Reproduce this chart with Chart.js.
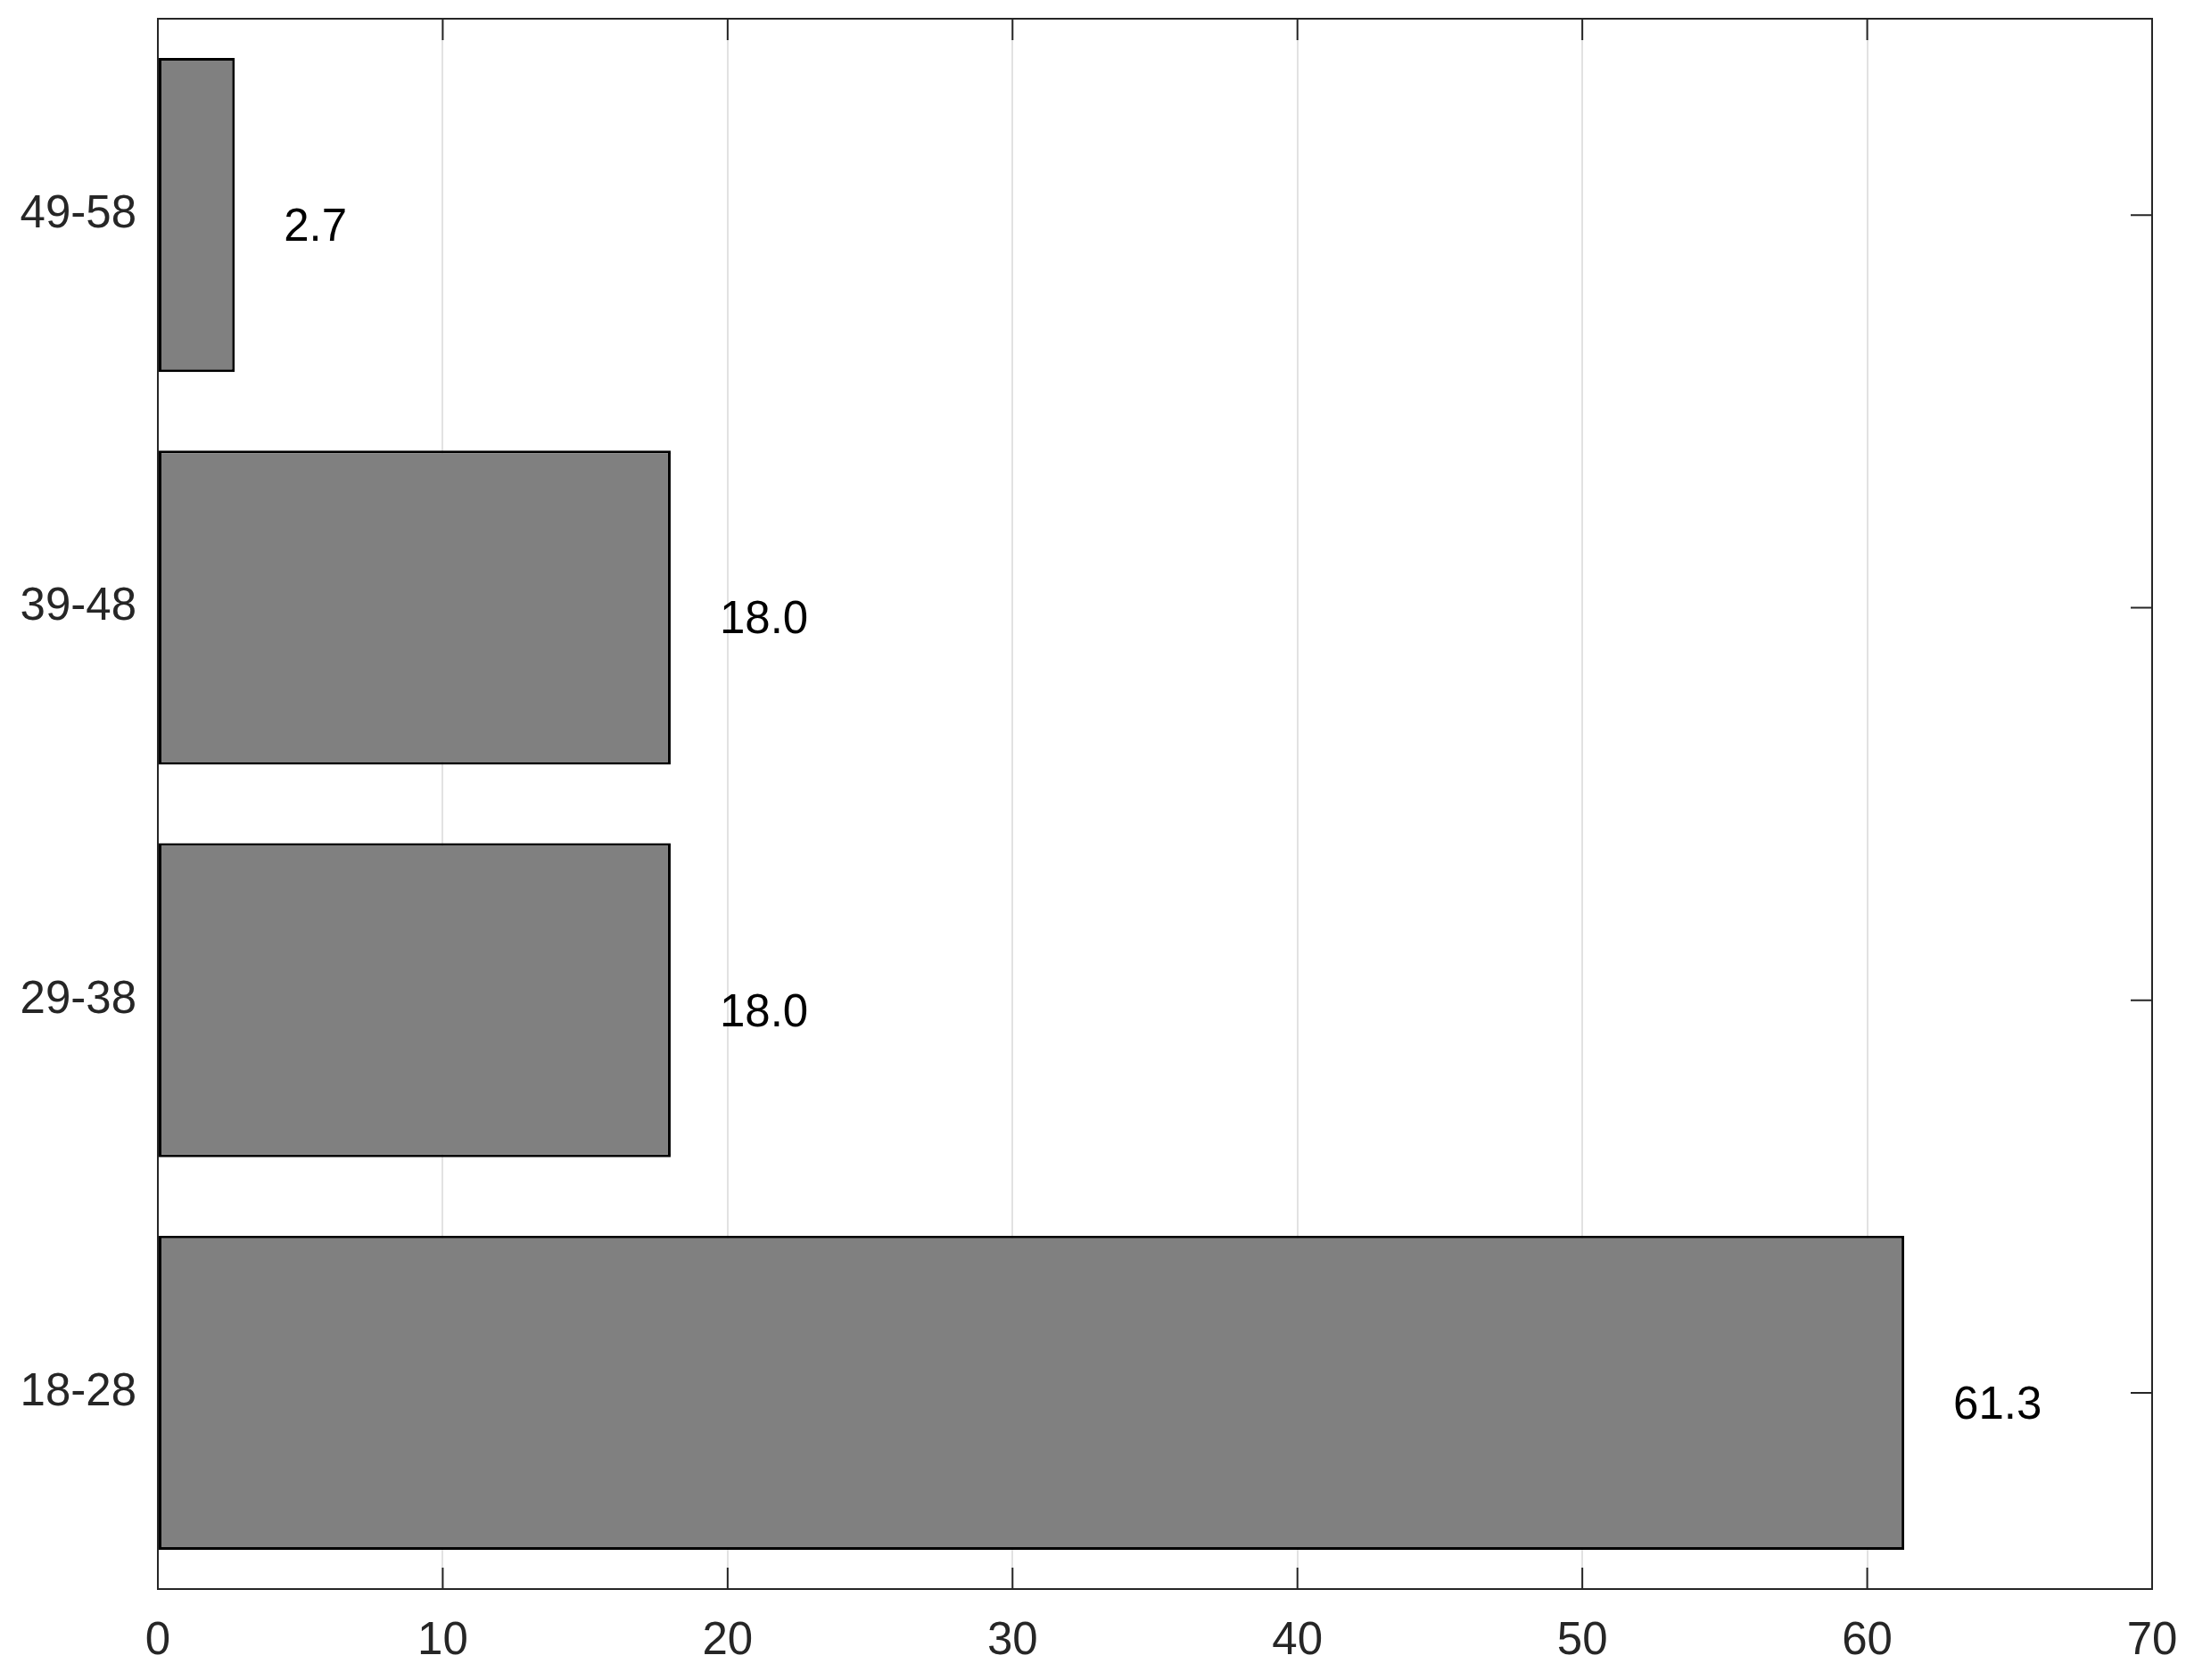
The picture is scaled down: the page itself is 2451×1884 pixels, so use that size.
<!DOCTYPE html>
<html>
<head>
<meta charset="utf-8">
<script src="https://cdn.jsdelivr.net/npm/chart.js@4/dist/chart.umd.min.js"></script>
<style>
  body { margin: 0; background: #fff; }
  #wrap { width: 2451px; height: 1884px; position: relative; }
</style>
</head>
<body>
<div id="wrap"><canvas id="graph"></canvas></div>
<script>
// age groups, bottom to top
var categories = ['18-28', '29-38', '39-48', '49-58'];
var values = [61.3, 18.0, 18.0, 2.7];
var xTicks = [0, 10, 20, 30, 40, 50, 60, 70];

var FONT = '"Liberation Sans", Arial, sans-serif';
var AXIS = '#262626';
var TICK = 24;

// inward tick marks, drawn under the bars like matlab does
var tickMarks = {
  id: 'tickMarks',
  beforeDatasetsDraw: function(chart) {
    var c = chart.ctx, a = chart.chartArea;
    var x = chart.scales.x, y = chart.scales.y;
    c.save();
    c.strokeStyle = AXIS;
    c.lineWidth = 2;
    c.beginPath();
    xTicks.forEach(function(v) {
      var px = x.getPixelForValue(v);
      c.moveTo(px, a.bottom); c.lineTo(px, a.bottom - TICK);
      c.moveTo(px, a.top); c.lineTo(px, a.top + TICK);
    });
    categories.forEach(function(cat, i) {
      var py = y.getPixelForValue(i);
      c.moveTo(a.left, py); c.lineTo(a.left + TICK, py);
      c.moveTo(a.right, py); c.lineTo(a.right - TICK, py);
    });
    c.stroke();
    c.restore();
  },
  afterDatasetsDraw: function(chart) {
    var c = chart.ctx, a = chart.chartArea;
    c.save();
    // frame
    c.strokeStyle = AXIS;
    c.lineWidth = 2;
    c.strokeRect(a.left, a.top, a.right - a.left, a.bottom - a.top);
    // value labels
    c.fillStyle = '#000';
    c.font = '51px ' + FONT;
    c.textAlign = 'left';
    c.textBaseline = 'middle';
    var meta = chart.getDatasetMeta(0);
    meta.data.forEach(function(bar, i) {
      c.fillText(values[i].toFixed(1), bar.x + 55, bar.y + 15);
    });
    c.restore();
  }
};

var g = document.getElementById('graph').getContext('2d');
var graph = new Chart(g, {
  type: 'bar',
  data: {
    labels: categories,
    datasets: [{
      data: values,
      backgroundColor: '#808080',
      borderColor: '#000',
      borderWidth: 3,
      borderSkipped: false,
      barPercentage: 0.8,
      categoryPercentage: 1
    }]
  },
  options: {
    indexAxis: 'y',
    responsive: true,
    maintainAspectRatio: false,
    animation: false,
    layout: { padding: { top: 21, right: 38, left: 0, bottom: 0 } },
    plugins: {
      legend: { display: false },
      tooltip: { enabled: false }
    },
    scales: {
      x: {
        min: 0,
        max: 70,
        afterBuildTicks: function(s) { s.ticks = xTicks.map(function(v) { return { value: v }; }); },
        afterFit: function(s) { s.height = 102; s.paddingLeft = 0; s.paddingRight = 0; },
        grid: { color: '#e2e2e2', lineWidth: 2, drawTicks: false },
        border: { display: false },
        ticks: {
          color: AXIS,
          padding: 28,
          maxRotation: 0,
          font: { family: FONT, size: 51 }
        }
      },
      y: {
        reverse: true,
        afterFit: function(s) { s.width = 177; s.paddingTop = 0; s.paddingBottom = 0; },
        grid: { display: false, drawTicks: false },
        border: { display: false },
        ticks: {
          color: AXIS,
          padding: 24,
          font: { family: FONT, size: 51 }
        }
      }
    }
  },
  plugins: [tickMarks]
});
</script>
</body>
</html>
